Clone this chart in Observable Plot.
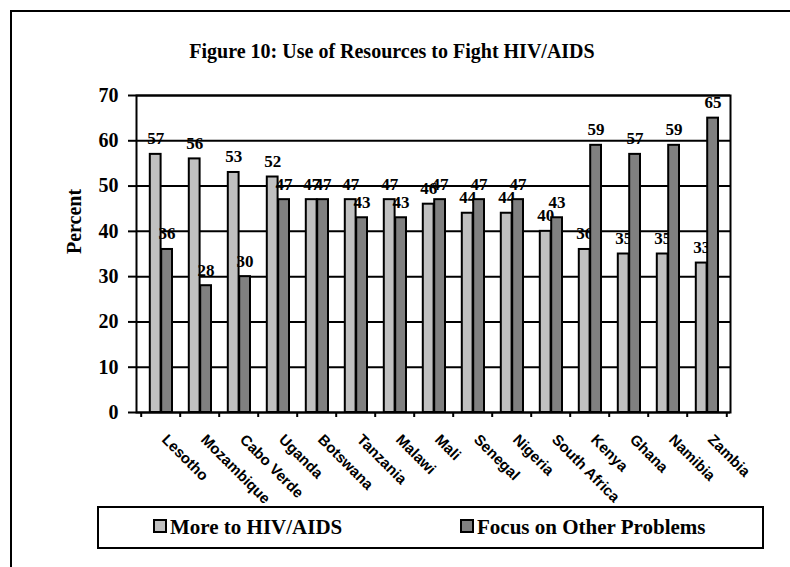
<!DOCTYPE html>
<html>
<head>
<meta charset="utf-8">
<script src="https://cdn.jsdelivr.net/npm/d3@7"></script>
<script src="https://cdn.jsdelivr.net/npm/@observablehq/plot@0.6"></script>
<style>
  html, body { margin: 0; padding: 0; background: #fff; }
  #wrap { position: relative; width: 790px; height: 567px; overflow: hidden; background: #fff; }
  #border { position: absolute; left: 10px; top: 10px; width: 840px; height: 640px; border: 2px solid #000; box-sizing: border-box; }
  #title { position: absolute; left: 0; top: 40px; width: 784px; text-align: center; font: bold 20px "Liberation Serif", "Times New Roman", serif; color: #000; }
  #chart { position: absolute; left: 0; top: 0; }
  #legend { position: absolute; left: 97px; top: 506px; width: 667px; height: 43px; border: 2px solid #000; box-sizing: border-box; font: bold 21px "Liberation Serif", "Times New Roman", serif; color: #000; }
  .item { position: absolute; top: 0; height: 39px; display: flex; align-items: center; white-space: nowrap; }
  .sw { display: inline-block; width: 10px; height: 10px; border: 2px solid #000; margin-right: 3px; margin-top: -3px; }
</style>
</head>
<body>
<div id="wrap">
  <div id="border"></div>
  <div id="title"></div>
  <div id="chart"></div>
  <div id="legend"></div>
</div>
<script>
const chartTitle = "Figure 10: Use of Resources to Fight HIV/AIDS";
const yLabel = "Percent";
const countries = ["Lesotho", "Mozambique", "Cabo Verde", "Uganda", "Botswana", "Tanzania", "Malawi", "Mali", "Senegal", "Nigeria", "South Africa", "Kenya", "Ghana", "Namibia", "Zambia"];
const moreToHIV = [57, 56, 53, 52, 47, 47, 47, 46, 44, 44, 40, 36, 35, 35, 33];
const focusOther = [36, 28, 30, 47, 47, 43, 43, 47, 47, 47, 43, 59, 57, 59, 65];
const seriesNames = ["More to HIV/AIDS", "Focus on Other Problems"];
const seriesColors = ["#C0C0C0", "#808080"];
const yTicks = [0, 10, 20, 30, 40, 50, 60, 70];

const serif = '"Liberation Serif", "Times New Roman", serif';
const sans = '"Liberation Sans", Arial, sans-serif';

const W = 790, H = 500, mL = 136, mR = 60, mT = 95, mB = 88;
const bw = (W - mL - mR) / countries.length;

const lightRows = countries.map((c, i) => ({country: c, value: moreToHIV[i]}));
const darkRows = countries.map((c, i) => ({country: c, value: focusOther[i]}));

const lightL = 8.8, mid = 20.2, darkR = 31.6;
const lightDx = (lightL + mid) / 2 - bw / 2;
const darkDx = (mid + darkR) / 2 - bw / 2;

document.getElementById("title").textContent = chartTitle;

const labelStyle = {fontSize: 17, fontWeight: "bold", fontFamily: serif, fill: "#000"};

const chart = Plot.plot({
  width: W, height: H,
  marginLeft: mL, marginRight: mR, marginTop: mT, marginBottom: mB,
  style: {background: "transparent", fontFamily: serif, color: "#000", overflow: "visible"},
  x: {type: "band", domain: countries, padding: 0, axis: null},
  y: {domain: [0, 70], axis: null},
  marks: [
    Plot.ruleY(yTicks, {stroke: "#000", strokeWidth: 2}),
    Plot.barY(lightRows, {x: "country", y: "value", fill: seriesColors[0], stroke: "#000", strokeWidth: 2, insetLeft: lightL, insetRight: bw - mid}),
    Plot.text(lightRows, {x: "country", y: "value", text: d => String(d.value), dx: lightDx, dy: -10, lineAnchor: "bottom", ...labelStyle}),
    Plot.barY(darkRows, {x: "country", y: "value", fill: seriesColors[1], stroke: "#000", strokeWidth: 2, insetLeft: mid, insetRight: bw - darkR}),
    Plot.text(darkRows, {x: "country", y: "value", text: d => String(d.value), dx: darkDx, dy: -10, lineAnchor: "bottom", ...labelStyle}),
    Plot.frame({stroke: "#000", strokeWidth: 2}),
    Plot.axisY({ticks: yTicks, tickSize: 8, tickPadding: 10, strokeWidth: 2, fontSize: 20, fontWeight: "bold", fontFamily: serif, label: null, tickFormat: d => String(d)}),
    Plot.ruleX(countries, {x: d => d, y1: 0, y2: 0, insetBottom: -5, dx: -bw / 2, stroke: "#000", strokeWidth: 2}),
    Plot.ruleX(countries.slice(-1), {x: d => d, y1: 0, y2: 0, insetBottom: -5, dx: bw / 2, stroke: "#000", strokeWidth: 2}),
    Plot.text(countries, {x: d => d, y: 0, text: d => d, dy: 28, rotate: 45, textAnchor: "start", lineAnchor: "bottom", fontSize: 15, fontWeight: "bold", fontFamily: sans, fill: "#000"}),
    Plot.text([yLabel], {frameAnchor: "left", text: d => d, dx: -62, rotate: -90, fontSize: 20, fontWeight: "bold", fontFamily: serif, fill: "#000"})
  ]
});
document.getElementById("chart").appendChild(chart);

const legend = document.getElementById("legend");
const legendLefts = [54, 361];
seriesNames.forEach((name, i) => {
  const item = document.createElement("div");
  item.className = "item";
  item.style.left = legendLefts[i] + "px";
  const sw = document.createElement("span");
  sw.className = "sw";
  sw.style.background = seriesColors[i];
  const t = document.createElement("span");
  t.textContent = name;
  item.appendChild(sw);
  item.appendChild(t);
  legend.appendChild(item);
});
</script>
</body>
</html>
